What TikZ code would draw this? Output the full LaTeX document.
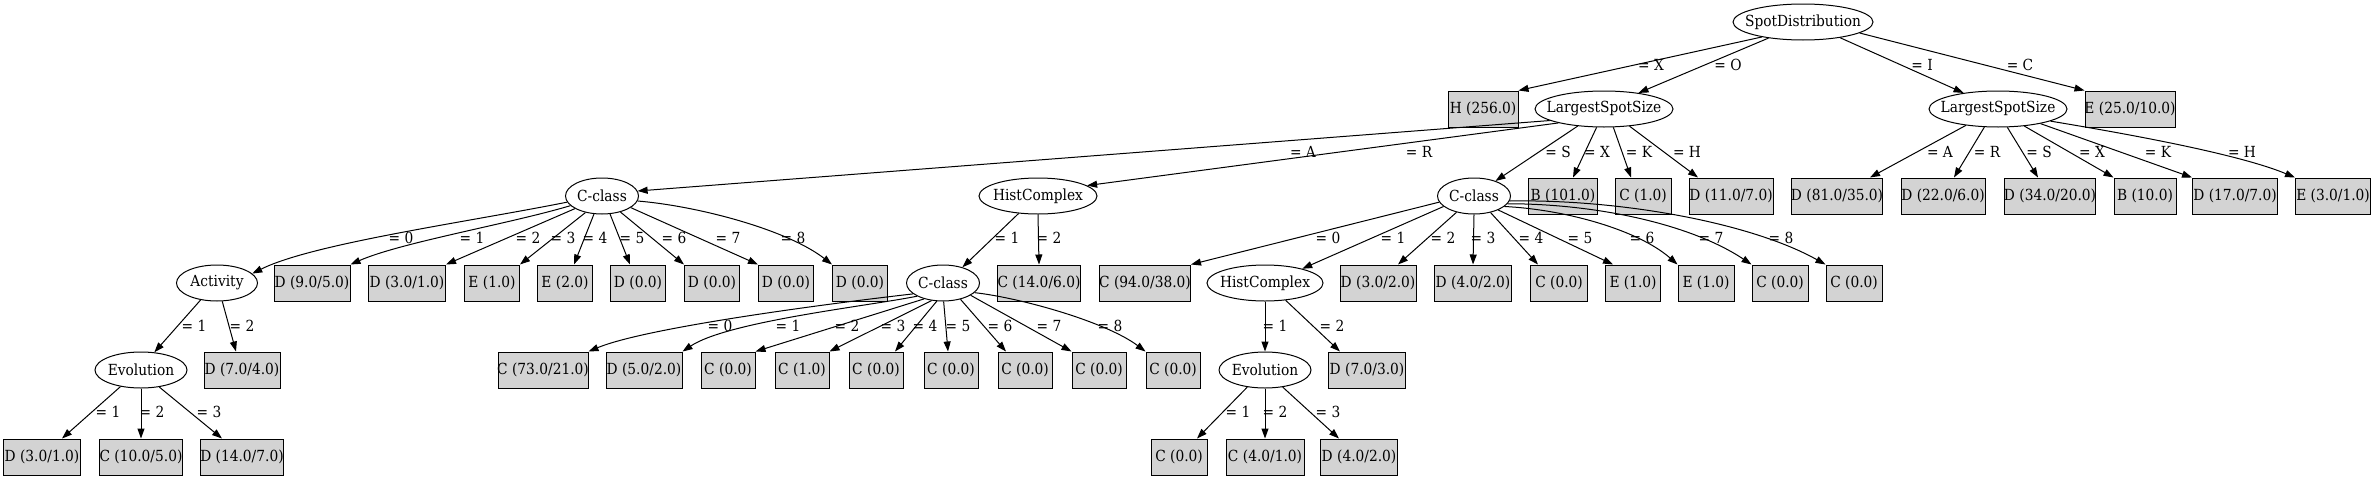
\documentclass[tikz,border=0pt]{standalone}
\usepackage{fontspec}
\setmainfont{DejaVu Serif Condensed}
\usetikzlibrary{arrows.meta,shapes.geometric}
\definecolor{leafgray}{RGB}{211,211,211}
\newcommand\zt[1]{\makebox[0pt]{#1}}
\tikzset{
  every node/.style={font=\fontsize{15.3}{17}\selectfont},
  split/.style={ellipse, draw, line width=1pt, minimum height=36pt, inner sep=0pt},
  leaf/.style={rectangle, draw, line width=1pt, fill=leafgray, minimum height=36pt, inner sep=0pt},
  edge/.style={line width=1pt, -{Triangle[length=10pt,width=7pt]}},
  lbl/.style={inner sep=0pt},
}
\begin{document}
\begin{tikzpicture}[x=1pt,y=-1pt]
\useasboundingbox (0,0) rectangle (2376,479);
% row 0
\node[split, minimum width=140pt] (sd) at (1803,22) {\zt{SpotDistribution}};
% row 1
\node[leaf, minimum width=70pt] (h256) at (1483,109) {\zt{H (256.0)}};
\node[split, minimum width=138pt] (lssl) at (1604,109) {\zt{LargestSpotSize}};
\node[split, minimum width=138pt] (lssr) at (1998,109) {\zt{LargestSpotSize}};
\node[leaf, minimum width=90pt] (e25) at (2130,109) {\zt{E (25.0/10.0)}};
% row 2
\node[split, minimum width=73pt] (cca) at (602,196) {\zt{C-class}};
\node[split, minimum width=118pt] (hcr) at (1038,196) {\zt{HistComplex}};
\node[split, minimum width=73pt] (ccs) at (1474,196) {\zt{C-class}};
\node[leaf, minimum width=69pt] (b101) at (1563,196) {\zt{B (101.0)}};
\node[leaf, minimum width=56pt] (c1) at (1643,196) {\zt{C (1.0)}};
\node[leaf, minimum width=84pt] (d11) at (1731,196) {\zt{D (11.0/7.0)}};
\node[leaf, minimum width=91pt] (d81) at (1837,196) {\zt{D (81.0/35.0)}};
\node[leaf, minimum width=84pt] (d22) at (1943,196) {\zt{D (22.0/6.0)}};
\node[leaf, minimum width=91pt] (d34) at (2050,196) {\zt{D (34.0/20.0)}};
\node[leaf, minimum width=62pt] (b10) at (2145,196) {\zt{B (10.0)}};
\node[leaf, minimum width=85pt] (d17) at (2235,196) {\zt{D (17.0/7.0)}};
\node[leaf, minimum width=75pt] (e3) at (2333,196) {\zt{E (3.0/1.0)}};
% row 3
\node[split, minimum width=81pt] (act) at (217,283) {\zt{Activity}};
\node[leaf, minimum width=76pt] (a1) at (312,283) {\zt{D (9.0/5.0)}};
\node[leaf, minimum width=77pt] (a2) at (407,283) {\zt{D (3.0/1.0)}};
\node[leaf, minimum width=55pt] (a3) at (492,283) {\zt{E (1.0)}};
\node[leaf, minimum width=55pt] (a4) at (565,283) {\zt{E (2.0)}};
\node[leaf, minimum width=55pt] (a5) at (638,283) {\zt{D (0.0)}};
\node[leaf, minimum width=55pt] (a6) at (712,283) {\zt{D (0.0)}};
\node[leaf, minimum width=55pt] (a7) at (786,283) {\zt{D (0.0)}};
\node[leaf, minimum width=55pt] (a8) at (860,283) {\zt{D (0.0)}};
\node[split, minimum width=73pt] (cch) at (943,283) {\zt{C-class}};
\node[leaf, minimum width=83pt] (r2) at (1039,283) {\zt{C (14.0/6.0)}};
\node[leaf, minimum width=91pt] (s0) at (1145,283) {\zt{C (94.0/38.0)}};
\node[split, minimum width=116pt] (hcs) at (1265,283) {\zt{HistComplex}};
\node[leaf, minimum width=76pt] (s2) at (1378,283) {\zt{D (3.0/2.0)}};
\node[leaf, minimum width=77pt] (s3) at (1473,283) {\zt{D (4.0/2.0)}};
\node[leaf, minimum width=57pt] (s4) at (1559,283) {\zt{C (0.0)}};
\node[leaf, minimum width=55pt] (s5) at (1633,283) {\zt{E (1.0)}};
\node[leaf, minimum width=56pt] (s6) at (1706,283) {\zt{E (1.0)}};
\node[leaf, minimum width=56pt] (s7) at (1780,283) {\zt{C (0.0)}};
\node[leaf, minimum width=56pt] (s8) at (1854,283) {\zt{C (0.0)}};
% row 4
\node[split, minimum width=92pt] (eva) at (141,370) {\zt{Evolution}};
\node[leaf, minimum width=76pt] (act2) at (242,370) {\zt{D (7.0/4.0)}};
\node[leaf, minimum width=90pt] (h0) at (543,370) {\zt{C (73.0/21.0)}};
\node[leaf, minimum width=76pt] (h1) at (644,370) {\zt{D (5.0/2.0)}};
\node[leaf, minimum width=54pt] (h2) at (728,370) {\zt{C (0.0)}};
\node[leaf, minimum width=54pt] (h3) at (802,370) {\zt{C (1.0)}};
\node[leaf, minimum width=54pt] (h4) at (876,370) {\zt{C (0.0)}};
\node[leaf, minimum width=54pt] (h5) at (951,370) {\zt{C (0.0)}};
\node[leaf, minimum width=54pt] (h6) at (1025,370) {\zt{C (0.0)}};
\node[leaf, minimum width=54pt] (h7) at (1099,370) {\zt{C (0.0)}};
\node[leaf, minimum width=54pt] (h8) at (1173,370) {\zt{C (0.0)}};
\node[split, minimum width=92pt] (evs) at (1265,370) {\zt{Evolution}};
\node[leaf, minimum width=77pt] (hs2) at (1367,370) {\zt{D (7.0/3.0)}};
% row 5
\node[leaf, minimum width=77pt] (ea1) at (42,457) {\zt{D (3.0/1.0)}};
\node[leaf, minimum width=83pt] (ea2) at (141,457) {\zt{C (10.0/5.0)}};
\node[leaf, minimum width=83pt] (ea3) at (242,457) {\zt{D (14.0/7.0)}};
\node[leaf, minimum width=56pt] (es1) at (1179,457) {\zt{C (0.0)}};
\node[leaf, minimum width=78pt] (es2) at (1265,457) {\zt{C (4.0/1.0)}};
\node[leaf, minimum width=77pt] (es3) at (1359,457) {\zt{D (4.0/2.0)}};

% edges row 0
\draw[edge] (sd.200) -- (h256.north east);
\draw[edge] (sd.205) -- (lssl.25);
\draw[edge] (sd.337) -- (lssr.155);
\draw[edge] (sd.349) -- (e25.north west);
% edges from left LargestSpotSize
\draw[edge] (lssl.192) -- (cca.8);
\draw[edge] (lssl.197) -- (hcr.12);
\draw[edge] (lssl.213) -- (ccs.35);
\draw[edge] (lssl.248) -- ([xshift=10pt]b101.north);
\draw[edge] (lssl.297) -- ([xshift=-12pt]c1.north);
\draw[edge] (lssl.326) -- ([xshift=-33pt]d11.north);
% edges from right LargestSpotSize
\draw[edge] (lssr.207) -- ([xshift=33pt]d81.north);
\draw[edge] (lssr.233) -- ([xshift=11pt]d22.north);
\draw[edge] (lssr.297) -- ([xshift=-12pt]d34.north);
\draw[edge] (lssr.327) -- (b10.north west);
\draw[edge] (lssr.341) -- (d17.north west);
\draw[edge] (lssr.347) .. controls +(60,10) and +(-60,-25) .. (e3.north west);
% edges from C-class (A)
\draw[edge] (cca.190) .. controls +(-100,20) and +(60,-30) .. (act.15);
\draw[edge] (cca.197) .. controls +(-60,18) and +(50,-22) .. (a1.north east);
\draw[edge] (cca.205) -- (a2.north east);
\draw[edge] (cca.225) -- (a3.north east);
\draw[edge] (cca.246) -- ([xshift=9pt]a4.north);
\draw[edge] (cca.294) -- ([xshift=-8pt]a5.north);
\draw[edge] (cca.319) -- (a6.north west);
\draw[edge] (cca.338) -- (a7.north west);
\draw[edge] (cca.352) .. controls +(60,5) and +(-45,-35) .. (a8.north west);
% edges from HistComplex (R)
\draw[edge] (hcr.222) -- (cch.39);
\draw[edge] (hcr.south) -- (r2.north);
% edges from C-class (S)
\draw[edge] (ccs.190) -- (s0.north east);
\draw[edge] (ccs.199) -- (hcs.21);
\draw[edge] (ccs.223) -- ([xshift=20pt]s2.north);
\draw[edge] (ccs.south) -- (s3.north);
\draw[edge] (ccs.315) -- ([xshift=-21pt]s4.north);
\draw[edge] (ccs.330) -- ([xshift=-20pt]s5.north);
\draw[edge] (ccs.341) .. controls +(60,3) and +(-40,-35) .. (s6.north west);
\draw[edge] (ccs.347) .. controls +(90,0) and +(-60,-40) .. (s7.north west);
\draw[edge] (ccs.352) .. controls +(110,-2) and +(-75,-42) .. (s8.north west);
% edges from Activity
\draw[edge] (act.226) -- (eva.53);
\draw[edge] (act.286) -- ([xshift=-6pt]act2.north);
% edges from C-class (HistComplex=1)
\draw[edge] (cch.200) .. controls +(-70,8) and +(60,-25) .. (h0.north east);
\draw[edge] (cch.207) .. controls +(-50,10) and +(45,-30) .. (h1.north east);
\draw[edge] (cch.220) -- (h2.north east);
\draw[edge] (cch.237) -- (h3.north east);
\draw[edge] (cch.251) -- ([xshift=19pt]h4.north);
\draw[edge] (cch.272) -- ([xshift=-3pt]h5.north);
\draw[edge] (cch.317) -- ([xshift=-19pt]h6.north);
\draw[edge] (cch.336) -- (h7.north west);
\draw[edge] (cch.343) .. controls +(45,5) and +(-40,-30) .. (h8.north west);
% edges from HistComplex (S)
\draw[edge] (hcs.south) -- (evs.north);
\draw[edge] (hcs.320) -- ([xshift=-27pt]hs2.north);
% edges from Evolution nodes
\draw[edge] (eva.219) -- ([xshift=20pt]ea1.north);
\draw[edge] (eva.south) -- (ea2.north);
\draw[edge] (eva.317) -- ([xshift=-20pt]ea3.north);
\draw[edge] (evs.224) -- ([xshift=18pt]es1.north);
\draw[edge] (evs.south) -- (es2.north);
\draw[edge] (evs.316) -- ([xshift=-20pt]es3.north);

% labels row 0-1
\node[lbl] (l01) at (1651,65) {= X};
\node[lbl] (l02) at (1728,65) {= O};
\node[lbl] (l03) at (1922,65) {= I};
\node[lbl] (l04) at (2020,65) {= C};
% labels row 1-2
\node[lbl] (l11) at (1303,152) {= A};
\node[lbl] (l12) at (1419,152) {= R};
\node[lbl] (l13) at (1558,152) {= S};
\node[lbl] (l14) at (1597,152) {= X};
\node[lbl] (l15) at (1639,152) {= K};
\node[lbl] (l16) at (1687,152) {= H};
\node[lbl] (l17) at (1940,152) {= A};
\node[lbl] (l18) at (1987,152) {= R};
\node[lbl] (l19) at (2039,152) {= S};
\node[lbl] (l1a) at (2092,152) {= X};
\node[lbl] (l1b) at (2158,152) {= K};
\node[lbl] (l1c) at (2242,152) {= H};
% labels row 2-3
\node[lbl] (l20) at (401,238) {= 0};
\node[lbl] (l21) at (472,238) {= 1};
\node[lbl] (l22) at (528,238) {= 2};
\node[lbl] (l23) at (563,238) {= 3};
\node[lbl] (l24) at (595,238) {= 4};
\node[lbl] (l25) at (632,238) {= 5};
\node[lbl] (l26) at (674,238) {= 6};
\node[lbl] (l27) at (728,238) {= 7};
\node[lbl] (l28) at (793,238) {= 8};
\node[lbl] (l2r1) at (1007,238) {= 1};
\node[lbl] (l2r2) at (1049,238) {= 2};
\node[lbl] (l2s0) at (1328,238) {= 0};
\node[lbl] (l2s1) at (1393,238) {= 1};
\node[lbl] (l2s2) at (1443,238) {= 2};
\node[lbl] (l2s3) at (1483,238) {= 3};
\node[lbl] (l2s4) at (1531,238) {= 4};
\node[lbl] (l2s5) at (1580,238) {= 5};
\node[lbl] (l2s6) at (1642,238) {= 6};
\node[lbl] (l2s7) at (1711,238) {= 7};
\node[lbl] (l2s8) at (1781,238) {= 8};
% labels row 3-4
\node[lbl] (l3a1) at (194,326) {= 1};
\node[lbl] (l3a2) at (242,326) {= 2};
\node[lbl] (l3h0) at (720,326) {= 0};
\node[lbl] (l3h1) at (788,326) {= 1};
\node[lbl] (l3h2) at (847,326) {= 2};
\node[lbl] (l3h3) at (893,326) {= 3};
\node[lbl] (l3h4) at (925,326) {= 4};
\node[lbl] (l3h5) at (958,326) {= 5};
\node[lbl] (l3h6) at (1000,326) {= 6};
\node[lbl] (l3h7) at (1049,326) {= 7};
\node[lbl] (l3h8) at (1110,326) {= 8};
\node[lbl] (l3s1) at (1275,326) {= 1};
\node[lbl] (l3s2) at (1332,326) {= 2};
% labels row 4-5
\node[lbl] (l4a1) at (108,412) {= 1};
\node[lbl] (l4a2) at (152,412) {= 2};
\node[lbl] (l4a3) at (209,412) {= 3};
\node[lbl] (l4s1) at (1238,412) {= 1};
\node[lbl] (l4s2) at (1275,412) {= 2};
\node[lbl] (l4s3) at (1328,412) {= 3};
\end{tikzpicture}
\end{document}
